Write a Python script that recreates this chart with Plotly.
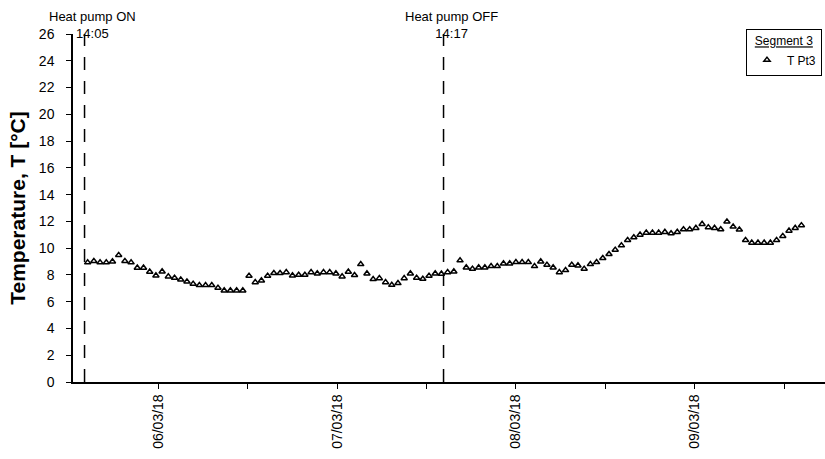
import pandas as pd
import plotly.graph_objects as go

# ---- data -------------------------------------------------------------
start_time = "2018-03-05 14:30"      # first logged sample
interval = "50min"                   # logging interval
temps = [8.93, 9.03, 8.93, 8.93, 9.00, 9.48, 9.03, 8.93, 8.53, 8.53,
         8.23, 7.95, 8.25, 7.88, 7.78, 7.65, 7.50, 7.33, 7.23, 7.23,
         7.23, 7.03, 6.83, 6.83, 6.83, 6.83, 7.93, 7.45, 7.58, 7.93,
         8.13, 8.13, 8.20, 7.95, 8.00, 8.00, 8.20, 8.10, 8.20, 8.20,
         8.10, 7.88, 8.23, 7.98, 8.80, 8.10, 7.68, 7.75, 7.45, 7.25,
         7.38, 7.75, 8.10, 7.78, 7.70, 7.93, 8.10, 8.08, 8.20, 8.25,
         9.08, 8.55, 8.45, 8.55, 8.55, 8.65, 8.65, 8.85, 8.85, 8.95,
         8.95, 8.95, 8.65, 9.00, 8.75, 8.55, 8.20, 8.35, 8.75, 8.70,
         8.45, 8.80, 8.95, 9.25, 9.55, 9.87, 10.20, 10.60, 10.80, 11.00,
         11.15, 11.15, 11.15, 11.20, 11.10, 11.20, 11.40, 11.40, 11.50, 11.80,
         11.55, 11.50, 11.40, 11.98, 11.60, 11.38, 10.60, 10.40, 10.40, 10.40,
         10.40, 10.60, 10.90, 11.30, 11.50, 11.70]
times = pd.date_range(start_time, periods=len(temps), freq=interval)

events = ["2018-03-05 14:05", "2018-03-07 14:17"]
event_labels = ["Heat pump ON<br>14:05", "Heat pump OFF<br>14:17"]

tick_vals = ["2018-03-06 00:00", "2018-03-06 12:00", "2018-03-07 00:00", "2018-03-07 12:00",
             "2018-03-08 00:00", "2018-03-08 12:00", "2018-03-09 00:00", "2018-03-09 12:00"]
tick_text = ["06/03/18", "", "07/03/18", "", "08/03/18", "", "09/03/18", ""]
x_range = ["2018-03-05 12:32", "2018-03-09 17:30"]
y_ticks = list(range(0, 27, 2))

FONT = "Arial, Liberation Sans, sans-serif"

fig = go.Figure()
fig.add_trace(go.Scatter(
    x=times, y=temps, mode="markers", name="T Pt3",
    marker=dict(symbol="triangle-up-open", size=5.5, color="black",
                line=dict(width=1.5, color="black")),
))

for ev, lab in zip(events, event_labels):
    fig.add_shape(type="line", xref="x", yref="y", x0=ev, x1=ev, y0=0, y1=26,
                  line=dict(color="black", width=1.5, dash="13px,11px"))
    fig.add_annotation(x=ev, xref="x", y=1.0, yref="paper", yanchor="bottom",
                       xshift=8, yshift=-9, text=lab, showarrow=False,
                       align="center", font=dict(size=13, color="black", family=FONT))

fig.update_layout(
    width=825, height=459,
    margin=dict(l=73, r=0, t=34, b=77),
    paper_bgcolor="white", plot_bgcolor="white",
    font=dict(family=FONT, color="black", size=14),
    showlegend=True,
    legend=dict(
        title=dict(text="<u>Segment 3</u>", side="top center",
                   font=dict(size=12, family=FONT)),
        font=dict(size=12, family=FONT),
        x=0.996, xanchor="right", y=1.015, yanchor="top",
        bordercolor="black", borderwidth=1, bgcolor="white",
        itemwidth=30, tracegroupgap=0,
    ),
    xaxis=dict(
        type="date", range=x_range, tickmode="array", automargin=False,
        tickvals=tick_vals, ticktext=tick_text, tickangle=-90,
        ticks="outside", ticklen=5, tickwidth=1, tickcolor="black",
        showline=True, linecolor="black", linewidth=1.5,
        showgrid=False, zeroline=False,
        tickfont=dict(size=14, family=FONT, color="black"),
    ),
    yaxis=dict(
        range=[0, 26], tickmode="array", tickvals=y_ticks, automargin=False,
        ticks="outside", ticklen=5, tickwidth=1, tickcolor="black",
        ticklabelstandoff=9,
        showline=True, linecolor="black", linewidth=1.5,
        showgrid=False, zeroline=False,
        tickfont=dict(size=14, family=FONT, color="black"),
        title=dict(text="<b>Temperature, T [°C]</b>", standoff=8,
                   font=dict(size=21, family=FONT, color="black")),
    ),
)

fig.write_html("out.html", config={"displayModeBar": False},
               post_script="document.body.style.margin='0';document.body.style.overflow='hidden';")
